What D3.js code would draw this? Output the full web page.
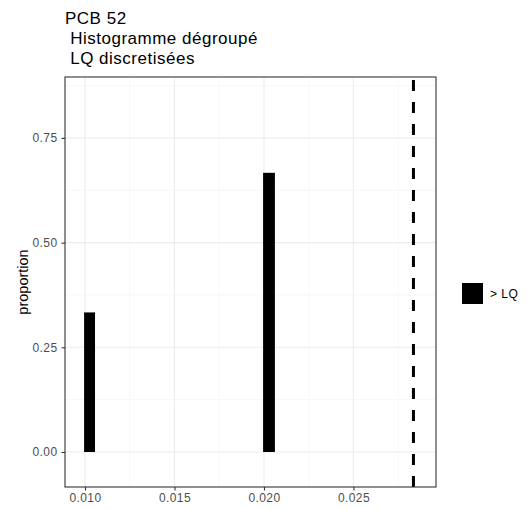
<!DOCTYPE html>
<html><head><meta charset="utf-8">
<script src="https://cdn.jsdelivr.net/npm/d3@7"></script>
<style>body{margin:0;background:#fff;} svg{display:block;font-family:"Liberation Sans",Arial,sans-serif;}</style>
</head><body>
<svg id="c" width="532" height="510"></svg>
<script>
const titleLines = ["PCB 52", " Histogramme dégroupé", " LQ discretisées"];
const binStart = [0.00995, 0.01995];
const binEnd = [0.01056, 0.02061];
const proportion = [0.3333, 0.6667];
const lqLine = [0.02835];
const xTicks = [0.010, 0.015, 0.020, 0.025];
const xMinor = [0.0125, 0.0175, 0.0225, 0.0275];
const yTicks = [0, 0.25, 0.5, 0.75];
const yMinor = [0.125, 0.375, 0.625, 0.875];
const legendLabels = ["> LQ"];
const xDomain = [0.008883, 0.02961];
const yDomain = [-0.0836, 0.8955];

const svg = d3.select("#c");
const L = 65, R = 436, T = 77, B = 487;
const x = d3.scaleLinear().domain(xDomain).range([L, R]);
const y = d3.scaleLinear().domain(yDomain).range([B, T]);

// grid
const g = svg.append("g");
g.selectAll(".mnx").data(xMinor).join("line").attr("x1", d => x(d)).attr("x2", d => x(d)).attr("y1", T).attr("y2", B).attr("stroke", "#f2f2f2").attr("stroke-width", 0.6);
g.selectAll(".mny").data(yMinor).join("line").attr("y1", d => y(d)).attr("y2", d => y(d)).attr("x1", L).attr("x2", R).attr("stroke", "#f2f2f2").attr("stroke-width", 0.6);
g.selectAll(".mjx").data(xTicks).join("line").attr("x1", d => x(d)).attr("x2", d => x(d)).attr("y1", T).attr("y2", B).attr("stroke", "#ebebeb").attr("stroke-width", 1.1);
g.selectAll(".mjy").data(yTicks).join("line").attr("y1", d => y(d)).attr("y2", d => y(d)).attr("x1", L).attr("x2", R).attr("stroke", "#ebebeb").attr("stroke-width", 1.1);

// bars
svg.selectAll(".bar").data(proportion).join("rect")
  .attr("x", (d, i) => x(binStart[i]))
  .attr("width", (d, i) => x(binEnd[i]) - x(binStart[i]))
  .attr("y", d => y(d))
  .attr("height", d => y(0) - y(d))
  .attr("fill", "#000");

// dashed vline
svg.selectAll(".vl").data(lqLine).join("line")
  .attr("x1", d => x(d)).attr("x2", d => x(d)).attr("y1", B).attr("y2", T)
  .attr("stroke", "#000").attr("stroke-width", 3).attr("stroke-dasharray", "11,11");

// panel border
svg.append("rect").attr("x", L).attr("y", T).attr("width", R - L).attr("height", B - T)
  .attr("fill", "none").attr("stroke", "#333").attr("stroke-width", 1.1);

// axes
const xa = svg.append("g").attr("transform", `translate(0,${B})`)
  .call(d3.axisBottom(x).tickValues(xTicks).tickFormat(d3.format(".3f")).tickSize(3.5).tickPadding(3));
const ya = svg.append("g").attr("transform", `translate(${L},0)`)
  .call(d3.axisLeft(y).tickValues(yTicks).tickFormat(d3.format(".2f")).tickSize(3.5).tickPadding(4));
[xa, ya].forEach(a => {
  a.select(".domain").remove();
  a.selectAll(".tick line").attr("stroke", "#333").attr("stroke-width", 1.1);
  a.selectAll(".tick text").attr("fill", "#4d4d4d").attr("font-size", 12).attr("letter-spacing", 0.4)
    .attr("font-family", "Liberation Sans, Arial, sans-serif");
});

// y title
svg.append("text").attr("transform", `translate(28,${(T + B) / 2}) rotate(-90)`)
  .attr("text-anchor", "middle").attr("font-size", 14.5).attr("fill", "#000").text("proportion");

// title
svg.selectAll(".tt").data(titleLines).join("text")
  .attr("x", 65).attr("y", (d, i) => 24 + i * 20)
  .attr("font-size", 17).attr("letter-spacing", 0.5).attr("fill", "#000").attr("xml:space", "preserve")
  .style("white-space", "pre").text(d => d);

// legend
const lg = svg.selectAll(".lg").data(legendLabels).join("g").attr("transform", "translate(462,283)");
lg.append("rect").attr("width", 21).attr("height", 21).attr("fill", "#000");
lg.append("text").attr("x", 28).attr("y", 15).attr("font-size", 12).attr("letter-spacing", 0.5).attr("fill", "#000").text(d => d);
</script>
</body></html>
